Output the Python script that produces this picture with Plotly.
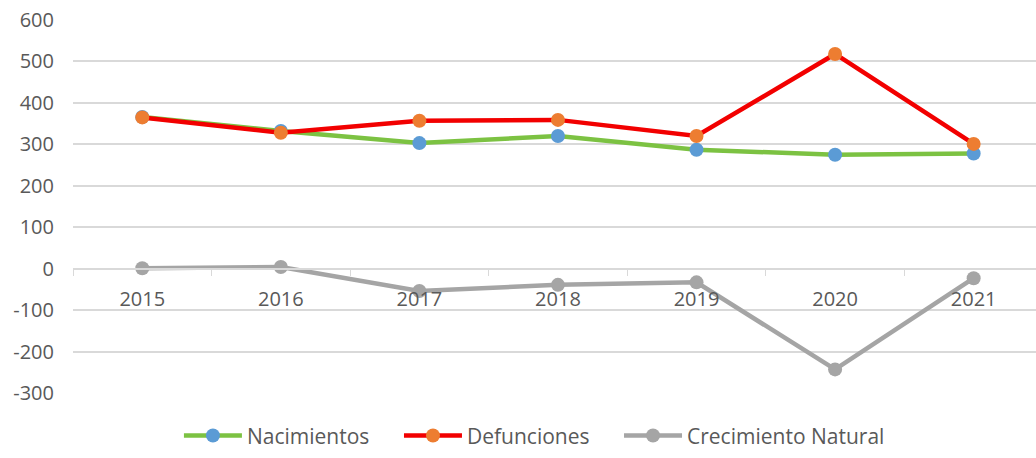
import plotly.graph_objects as go

years = ["2015", "2016", "2017", "2018", "2019", "2020", "2021"]
nacimientos = [366, 332, 303, 320, 287, 275, 278]
defunciones = [365, 328, 357, 359, 320, 518, 301]
crecimiento = [1, 4, -54, -39, -33, -243, -23]
y_ticks = [600, 500, 400, 300, 200, 100, 0, -100, -200, -300]
y_tick_labels = ["600", "500", "400", "300", "200", "100", "0", "-100", "-200", "-300"]

FONT = "Open Sans"
TEXT = "#595959"
GRID = "#D9D9D9"

# name, values, line colour, marker colour, legend id, legend left (paper x)
series = [
    ("Nacimientos", nacimientos, "#7CC242", "#5B9BD5", "legend", 0.110),
    ("Defunciones", defunciones, "#F20000", "#ED7D31", "legend2", 0.3385),
    ("Crecimiento Natural", crecimiento, "#A5A5A5", "#A5A5A5", "legend3", 0.567),
]

fig = go.Figure()
legends = {}
for name, vals, line_col, marker_col, leg, leg_x in series:
    fig.add_trace(go.Scatter(
        x=years, y=vals, name=name, mode="lines+markers",
        line=dict(color=line_col, width=4.5),
        marker=dict(color=marker_col, size=14, line=dict(width=0)),
        legend=leg,
    ))
    legends[leg] = dict(
        orientation="h", x=leg_x, xanchor="left", y=-0.170, yanchor="bottom",
        font=dict(size=21, color=TEXT, family=FONT),
        itemwidth=58, bgcolor="rgba(0,0,0,0)",
    )

fig.update_layout(
    width=1036, height=458,
    margin=dict(l=73, r=0, t=20, b=64.5),
    paper_bgcolor="white", plot_bgcolor="white",
    font=dict(family=FONT, color=TEXT),
    showlegend=True,
    xaxis=dict(
        type="category", range=[-0.5, 6.45],
        anchor="free", position=1 / 3,
        showline=True, linecolor=GRID, linewidth=1.5,
        showgrid=False, zeroline=False,
        ticks="outside", tickson="boundaries", ticklen=7, tickcolor=GRID,
        tickfont=dict(size=20, color=TEXT, family=FONT),
        ticklabelstandoff=13,
    ),
    yaxis=dict(
        range=[-300, 600], tickvals=y_ticks, ticktext=y_tick_labels,
        showgrid=True, gridcolor=GRID, gridwidth=1.5,
        zeroline=False, showline=False,
        tickfont=dict(size=20, color=TEXT, family=FONT),
        ticklabelstandoff=18,
    ),
    **legends,
)

fig.write_html("out.html")
